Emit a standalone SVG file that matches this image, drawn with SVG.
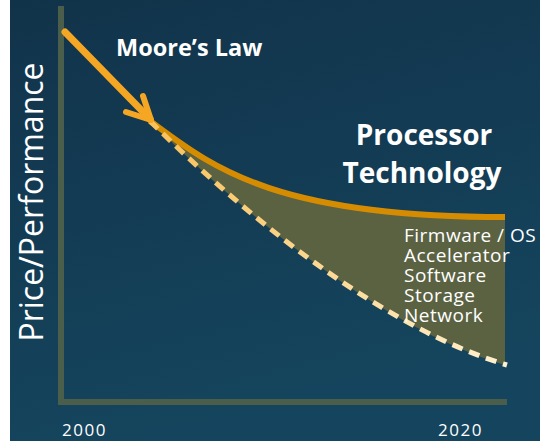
<svg xmlns="http://www.w3.org/2000/svg" width="540" height="441" viewBox="0 0 540 441">
  <defs>
    <linearGradient id="bg" x1="0" y1="0" x2="0.3" y2="1">
      <stop offset="0" stop-color="#11334a"/>
      <stop offset="1" stop-color="#15455e"/>
    </linearGradient>
    <linearGradient id="dash" x1="150" y1="0" x2="510" y2="0" gradientUnits="userSpaceOnUse">
      <stop offset="0" stop-color="#f8c15a"/>
      <stop offset="1" stop-color="#fff2d2"/>
    </linearGradient>
    <style>
      .lbl { font-family: "Open Sans", "Liberation Sans", sans-serif; fill: #ffffff; }
      .title { font-weight: bold; }
      .axis { stroke: #4b5e4c; stroke-width: 6; fill: none; }
    </style>
  </defs>

  <!-- page background -->
  <rect x="0" y="0" width="540" height="441" fill="#ffffff"/>
  <rect x="10" y="0" width="530" height="441" fill="url(#bg)"/>

  <!-- shaded gap between the two trends -->
  <path id="gap" d="M150 121 C 210 165, 270 217, 505 217 L 505 365 C 390 330, 260 230, 150 121 Z" fill="#5b6242"/>

  <!-- axes -->
  <g id="axes">
    <polyline class="axis" points="61,6 61,402 507,402"/>
  </g>

  <g id="connectors">
    <!-- processor technology trend -->
    <path d="M150 121 C 210 165, 270 217, 505 217" fill="none" stroke="#d68c00" stroke-width="6"/>
    <!-- extrapolated trend -->
    <path d="M150 121 C 260 230, 390 330, 507 365" fill="none" stroke="url(#dash)" stroke-width="5" stroke-dasharray="11 7"/>
    <!-- Moore's law arrow -->
    <path d="M65 32 L 150 119" fill="none" stroke="#f5a623" stroke-width="7" stroke-linecap="round"/>
    <path d="M126 112 L 151 120 L 143 96" fill="none" stroke="#f5a623" stroke-width="6" stroke-linecap="round" stroke-linejoin="round"/>
  </g>

  <g id="moore">
    <text class="lbl title" x="116" y="56" font-size="23.5">Moore’s Law</text>
  </g>

  <g id="processor">
    <text class="lbl title" x="424" y="145" font-size="28" text-anchor="middle">Processor</text>
    <text class="lbl title" x="422" y="183" font-size="28" text-anchor="middle">Technology</text>
  </g>

  <g id="layers" class="lbl" font-size="19" letter-spacing="0.5">
    <text x="404" y="242">Firmware / OS</text>
    <text x="404" y="262">Accelerator</text>
    <text x="404" y="282">Software</text>
    <text x="404" y="302">Storage</text>
    <text x="404" y="322">Network</text>
  </g>

  <g id="axis-labels">
    <text class="lbl" x="0" y="0" font-size="32" transform="translate(43 202) rotate(-90)" text-anchor="middle">Price/Performance</text>
    <text class="lbl" x="62" y="436" font-size="17" letter-spacing="1.5">2000</text>
    <text class="lbl" x="438" y="436" font-size="17" letter-spacing="1.5">2020</text>
  </g>
</svg>
